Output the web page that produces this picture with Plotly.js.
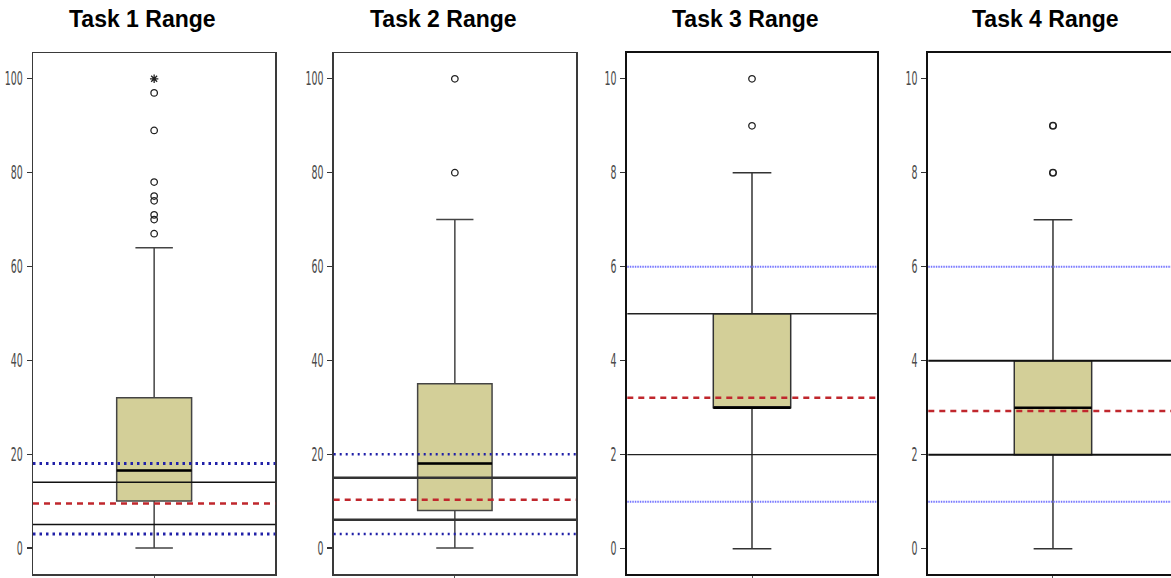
<!DOCTYPE html>
<html>
<head>
<meta charset="utf-8">
<script src="https://cdn.plot.ly/plotly-3.0.1.min.js"></script>
<style>
  html, body { margin: 0; padding: 0; background: #fff; }
  #chart { width: 1171px; height: 578px; }
</style>
</head>
<body>
<div id="chart"></div>
<script>
// ---- data ----
const panelTitles = ['Task 1 Range', 'Task 2 Range', 'Task 3 Range', 'Task 4 Range'];
const q1Values = [10, 8, 3, 2];
const medianValues = [16.5, 18, 3, 3];
const q3Values = [32, 35, 5, 4];
const lowerWhisker = [0, 0, 0, 0];
const upperWhisker = [64, 70, 8, 7];
const outlierValues = [[67, 70, 71, 74, 75, 78, 89, 97], [80, 100], [9, 10], [8, 9]];
const extremeValues = [[100], [], [], []];
const blueUpper = [18, 20, 6, 6];
const blueLower = [3, 3, 1, 1];
const blackUpper = [14, 15, 5, 4];
const blackLower = [5, 6, 2, 2];
const redMean = [9.5, 10.3, 3.21, 2.93];
const yTickValues = [[0, 20, 40, 60, 80, 100], [0, 20, 40, 60, 80, 100], [0, 2, 4, 6, 8, 10], [0, 2, 4, 6, 8, 10]];

// ---- layout / style constants ----
const W = 1171;
const domains = [[33 / W, 275.3 / W], [333.7 / W, 576 / W], [627.3 / W, 876.7 / W], [928.3 / W, 1]];
const xRanges = [[-1.617, 1.617], [-1.628, 1.628], [-1.611, 1.611], [-1.611, 1.525]];
const yRanges = [[-5.54, 105.5], [-5.54, 105.5], [-0.54, 10.55], [-0.54, 10.55]];
const titleX = [142, 443, 745, 1045];
const BOX_W = 1;
const boxFill = '#d3cf98';
const boxLine = ['#444', '#444', '#333', '#333'];
const borderColor = ['#3a3a3a', '#3a3a3a', '#111', '#111'];
const borderWidth = [1.5, 1.5, 2, 2];
const blueStyle = [
  {color: '#2020a8', width: 3, dash: '2.5px,4px'},
  {color: '#2020a8', width: 2.5, dash: '2px,4px'},
  {color: '#7676ff', width: 2, dash: '1.5px,1px'},
  {color: '#7676ff', width: 2, dash: '1.5px,1px'}
];
const blackStyle = [
  {color: '#111', width: 1.5},
  {color: '#333', width: 2.5},
  {color: '#222', width: 1.3},
  {color: '#111', width: 2}
];
const redStyle = {color: '#c0272d', width: 2.5, dash: '6px,5px'};

const traces = [];
const shapes = [];
const annotations = [];
const layout = {
  width: 1171, height: 578,
  margin: {l: 0, r: 0, t: 53, b: 4, pad: 0},
  paper_bgcolor: '#fff', plot_bgcolor: '#fff',
  showlegend: false,
  font: {family: 'Liberation Sans, Arial, sans-serif', color: '#555'}
};

for (let i = 0; i < 4; i++) {
  const n = i === 0 ? '' : String(i + 1);
  const xa = 'x' + n, ya = 'y' + n;
  traces.push({
    type: 'box', xaxis: xa, yaxis: ya,
    x: [0],
    q1: [q1Values[i]], median: [medianValues[i]], q3: [q3Values[i]],
    lowerfence: [lowerWhisker[i]], upperfence: [upperWhisker[i]],
    width: BOX_W, whiskerwidth: 0.5,
    fillcolor: boxFill,
    line: {color: boxLine[i], width: 1.5},
    boxpoints: false, hoverinfo: 'skip'
  });
  traces.push({
    type: 'scatter', mode: 'markers', xaxis: xa, yaxis: ya,
    x: outlierValues[i].map(() => 0), y: outlierValues[i],
    marker: {symbol: 'circle-open', size: 6.5, color: '#222', line: {width: i === 3 ? 1.6 : 1.3, color: '#222'}},
    hoverinfo: 'skip'
  });
  if (extremeValues[i].length) {
    traces.push({
      type: 'scatter', mode: 'markers', xaxis: xa, yaxis: ya,
      x: extremeValues[i].map(() => 0), y: extremeValues[i],
      marker: {symbol: 'asterisk-open', size: 7, color: '#222', line: {width: 1.3, color: '#222'}},
      hoverinfo: 'skip'
    });
  }
  // median emphasised
  shapes.push({type: 'line', xref: xa, yref: ya, x0: -BOX_W / 2, x1: BOX_W / 2,
    y0: medianValues[i], y1: medianValues[i], line: {color: '#000', width: 2.5}, layer: 'above'});
  const dref = xa + ' domain';
  shapes.push({type: 'line', xref: dref, yref: ya, x0: 0, x1: 1, y0: blueUpper[i], y1: blueUpper[i], line: blueStyle[i]});
  shapes.push({type: 'line', xref: dref, yref: ya, x0: 0, x1: 1, y0: blueLower[i], y1: blueLower[i], line: blueStyle[i]});
  shapes.push({type: 'line', xref: dref, yref: ya, x0: 0, x1: 1, y0: blackUpper[i], y1: blackUpper[i], line: blackStyle[i]});
  shapes.push({type: 'line', xref: dref, yref: ya, x0: 0, x1: 1, y0: blackLower[i], y1: blackLower[i], line: blackStyle[i]});
  shapes.push({type: 'line', xref: dref, yref: ya, x0: 0, x1: 1, y0: redMean[i], y1: redMean[i], line: redStyle});

  layout['xaxis' + n] = {
    domain: domains[i], range: xRanges[i], anchor: ya,
    showgrid: false, zeroline: false, fixedrange: true,
    showline: true, mirror: true, linecolor: borderColor[i], linewidth: borderWidth[i],
    ticks: 'outside', tickvals: [0], ticklen: 8, tickcolor: '#555', tickwidth: 1,
    showticklabels: false
  };
  layout['yaxis' + n] = {
    domain: [0, 1], range: yRanges[i], anchor: xa,
    showgrid: false, zeroline: false, fixedrange: true,
    showline: true, mirror: i < 3, linecolor: borderColor[i], linewidth: borderWidth[i],
    ticks: 'outside', ticklen: 5, tickwidth: 1.3, tickcolor: '#333',
    tickvals: yTickValues[i], ticktext: yTickValues[i].map(String),
    tickfont: {family: 'Liberation Sans Narrow, DejaVu Sans Condensed, Arial Narrow, sans-serif', size: 19, color: '#4a4a4a'}
  };
  annotations.push({
    xref: 'paper', yref: 'paper', x: titleX[i] / W, y: 1 + 34 / 521,
    xanchor: 'center', yanchor: 'middle', showarrow: false,
    text: '<b>' + panelTitles[i] + '</b>',
    font: {family: 'Liberation Sans, Arial, sans-serif', size: 23, color: '#000'}
  });
}
layout.shapes = shapes;
layout.annotations = annotations;

Plotly.newPlot('chart', traces, layout, {staticPlot: true, displayModeBar: false}).then(() => {
  document.querySelectorAll('g.yaxislayer-above text').forEach(t => {
    const len = t.textContent.length;
    t.setAttribute('textLength', String(len * 6));
    t.setAttribute('lengthAdjust', 'spacingAndGlyphs');
  });
});
</script>
</body>
</html>
